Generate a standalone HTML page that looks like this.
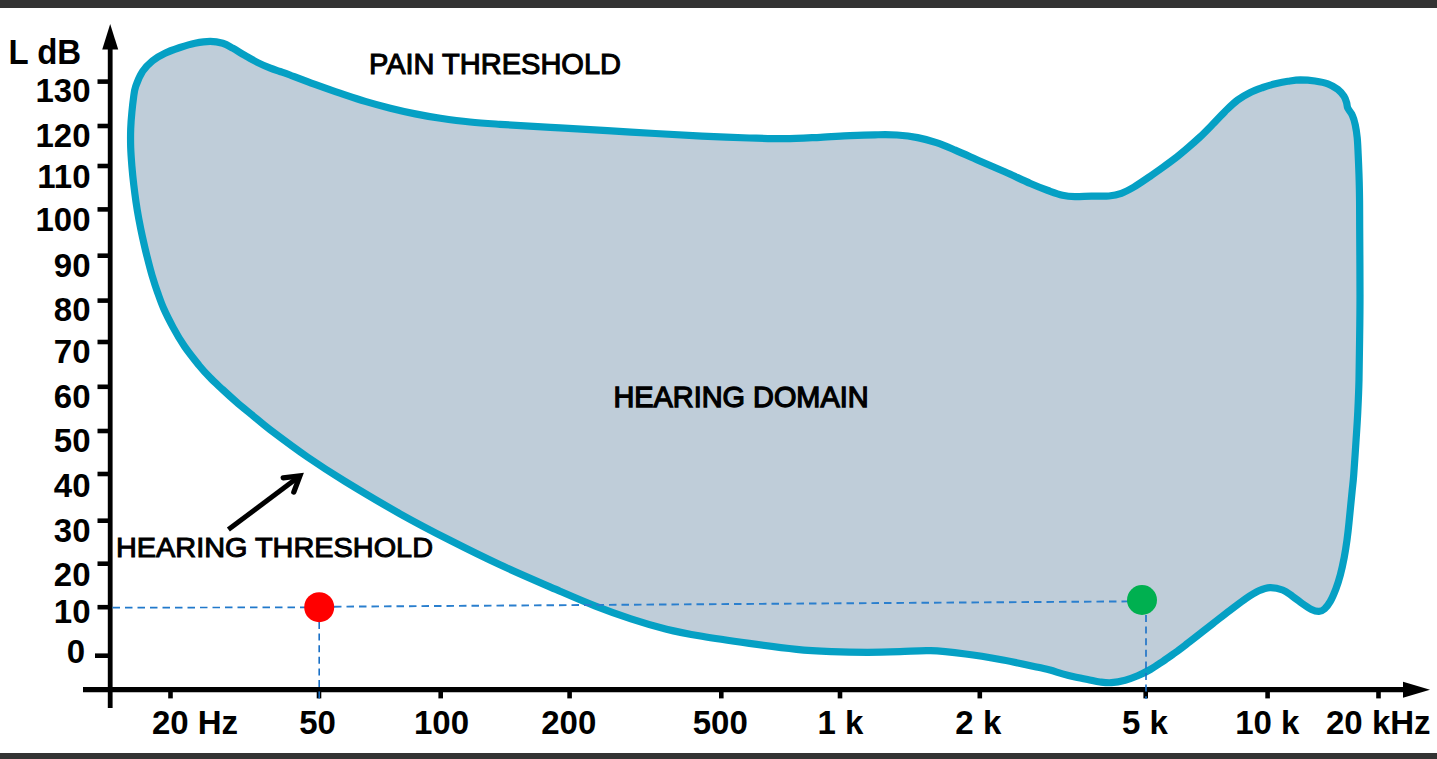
<!DOCTYPE html>
<html><head><meta charset="utf-8"><title>Hearing domain</title>
<style>
html,body{margin:0;padding:0;background:#fff;}
body{width:1437px;height:759px;overflow:hidden;font-family:"Liberation Sans",sans-serif;}
svg{display:block;}
text{font-family:"Liberation Sans",sans-serif;fill:#000;}
.b{font-weight:bold;font-size:33px;}
.r{font-size:28.5px;}
</style></head><body>
<svg width="1437" height="759" viewBox="0 0 1437 759">
<rect x="0" y="0" width="1437" height="759" fill="#ffffff"/>
<rect x="0" y="0" width="1437" height="8" fill="#333333"/>
<rect x="0" y="753" width="1437" height="6" fill="#333333"/>
<path d="M210.2,41.3C214.8,41.3 219.0,42.1 222.8,43.2C226.6,44.4 229.1,46.1 232.8,48.2C236.6,50.3 241.1,53.3 245.3,55.7C249.5,58.1 253.6,60.5 257.8,62.6C262.0,64.7 266.7,66.7 270.4,68.2C274.1,69.7 276.7,70.4 280.0,71.5C283.3,72.6 284.2,72.8 290.0,75.0C295.8,77.2 306.7,81.4 315.0,84.4C323.3,87.4 331.6,90.4 340.0,93.2C348.4,96.0 356.8,98.9 365.2,101.4C373.6,103.9 381.9,106.1 390.3,108.2C398.7,110.3 407.0,112.2 415.3,113.9C423.6,115.6 431.3,117.0 440.4,118.3C449.5,119.6 460.1,121.0 470.0,122.0C479.9,123.0 485.0,123.3 500.0,124.3C515.0,125.3 538.2,126.6 560.0,127.9C581.8,129.2 607.3,130.7 631.0,132.1C654.7,133.5 682.3,135.1 702.0,136.1C721.7,137.1 735.5,137.6 749.3,138.0C763.1,138.4 773.0,138.8 784.8,138.7C796.6,138.6 809.4,137.8 820.3,137.3C831.2,136.8 840.9,136.0 850.0,135.6C859.1,135.2 867.2,134.9 875.0,134.8C882.8,134.7 889.9,134.5 897.0,135.0C904.1,135.5 911.0,136.3 917.6,137.6C924.2,138.9 930.1,140.5 936.4,142.6C942.7,144.7 947.9,147.0 955.2,150.1C962.5,153.2 971.9,157.5 980.3,161.2C988.6,164.8 996.9,168.3 1005.3,172.0C1013.6,175.7 1023.3,180.4 1030.4,183.5C1037.5,186.6 1042.7,188.6 1048.0,190.5C1053.3,192.4 1058.0,194.2 1062.5,195.2C1067.0,196.2 1070.2,196.5 1075.0,196.7C1079.8,196.8 1085.8,196.2 1091.4,196.1C1097.1,196.0 1103.9,196.5 1108.9,196.0C1113.9,195.5 1117.2,194.8 1121.4,193.3C1125.6,191.8 1129.2,189.8 1134.0,187.0C1138.8,184.2 1145.5,179.5 1150.3,176.2C1155.1,172.9 1158.6,170.4 1162.8,167.4C1167.0,164.4 1171.2,161.4 1175.3,158.2C1179.4,155.0 1183.5,151.5 1187.6,148.0C1191.7,144.5 1195.8,140.9 1200.0,137.0C1204.2,133.1 1208.5,128.6 1212.7,124.3C1216.9,120.0 1221.0,115.3 1225.2,111.3C1229.4,107.2 1233.5,103.1 1237.7,100.0C1241.9,96.9 1246.1,94.6 1250.3,92.5C1254.5,90.4 1258.6,89.0 1262.8,87.5C1267.0,86.0 1271.1,84.8 1275.3,83.8C1279.5,82.8 1283.6,81.9 1287.8,81.3C1292.0,80.7 1295.9,80.0 1300.4,79.9C1304.9,79.9 1310.4,80.3 1315.0,81.0C1319.6,81.7 1324.0,82.4 1327.8,83.8C1331.6,85.2 1335.1,87.3 1337.8,89.4C1340.5,91.5 1342.5,94.1 1344.0,96.3C1345.5,98.5 1346.0,100.6 1346.6,102.6C1347.2,104.6 1346.9,106.1 1347.8,108.2C1348.7,110.3 1351.0,112.2 1352.2,115.0C1353.5,117.8 1354.5,121.2 1355.3,125.0C1356.1,128.8 1356.7,132.7 1357.2,137.7C1357.7,142.7 1357.8,146.3 1358.2,155.0C1358.6,163.7 1359.2,177.5 1359.4,190.0C1359.7,202.5 1359.6,212.5 1359.7,230.0C1359.8,247.5 1360.0,276.7 1360.0,295.0C1360.0,313.3 1359.8,325.8 1359.6,340.0C1359.4,354.2 1359.3,368.1 1359.0,380.0C1358.7,391.9 1358.3,400.9 1357.8,411.3C1357.3,421.8 1356.6,432.1 1355.9,442.7C1355.2,453.3 1354.3,466.9 1353.7,475.0C1353.1,483.1 1352.9,483.4 1352.1,491.3C1351.3,499.2 1349.8,514.6 1349.0,522.7C1348.2,530.8 1347.8,534.2 1347.0,540.0C1346.2,545.8 1345.3,551.7 1344.2,557.5C1343.1,563.3 1341.7,569.8 1340.3,575.0C1338.9,580.2 1337.6,584.5 1335.9,588.9C1334.2,593.3 1332.2,598.1 1330.3,601.4C1328.4,604.7 1326.5,607.2 1324.6,608.9C1322.7,610.6 1321.2,611.3 1319.0,611.4C1316.8,611.5 1314.2,610.8 1311.5,609.5C1308.8,608.2 1305.8,606.1 1302.7,603.9C1299.6,601.7 1296.1,598.7 1292.7,596.4C1289.3,594.1 1286.4,591.5 1282.6,590.0C1278.8,588.5 1274.0,587.5 1270.0,587.6C1266.0,587.7 1262.8,589.0 1258.8,590.8C1254.8,592.6 1251.1,595.0 1246.3,598.2C1241.5,601.5 1235.6,606.1 1230.0,610.3C1224.4,614.5 1217.8,619.8 1212.9,623.6C1208.0,627.5 1204.6,630.1 1200.4,633.4C1196.2,636.7 1192.0,640.0 1187.8,643.2C1183.6,646.4 1179.5,649.6 1175.3,652.6C1171.1,655.6 1167.0,658.6 1162.8,661.4C1158.6,664.2 1154.5,667.1 1150.3,669.5C1146.1,671.9 1141.9,674.0 1137.7,675.8C1133.5,677.6 1129.6,679.1 1125.2,680.2C1120.8,681.4 1115.6,682.4 1111.4,682.7C1107.2,683.0 1104.0,682.5 1100.0,682.0C1096.0,681.5 1091.8,680.3 1087.6,679.5C1083.4,678.7 1079.2,677.9 1075.0,677.0C1070.8,676.1 1066.7,675.1 1062.5,673.9C1058.3,672.7 1054.1,671.1 1050.0,670.0C1045.9,668.9 1045.8,669.0 1038.0,667.3C1030.2,665.6 1015.1,662.2 1003.0,660.0C990.9,657.8 977.7,655.5 965.6,654.0C953.5,652.5 941.4,651.1 930.5,650.7C919.6,650.3 910.5,651.4 900.0,651.7C889.5,652.0 878.9,652.3 867.6,652.3C856.3,652.3 843.8,652.1 832.0,651.6C820.2,651.1 810.4,650.7 796.6,649.3C782.8,647.9 765.1,645.6 749.3,643.4C733.5,641.2 715.8,638.7 702.0,636.3C688.2,633.9 678.3,632.1 666.5,629.2C654.7,626.3 642.8,622.8 631.0,618.9C619.2,615.0 607.3,610.7 595.5,606.1C583.7,601.5 575.9,598.1 560.0,591.2C544.1,584.3 518.3,573.3 500.0,564.8C481.7,556.3 466.7,548.8 450.0,540.3C433.3,531.8 417.5,523.6 400.0,513.8C382.5,504.0 360.4,490.8 345.0,481.4C329.6,471.9 320.1,465.7 307.6,457.1C295.1,448.5 279.4,436.7 270.0,429.6C260.6,422.5 257.1,419.1 251.5,414.5C245.9,409.9 241.2,406.2 236.4,402.0C231.6,397.8 227.0,393.6 222.6,389.5C218.2,385.4 213.9,381.7 210.0,377.6C206.1,373.6 203.2,370.4 198.9,365.2C194.7,360.0 188.8,352.7 184.5,346.4C180.2,340.1 176.6,333.9 173.2,327.6C169.8,321.3 166.4,314.7 163.8,308.8C161.2,302.9 159.6,298.1 157.6,292.5C155.6,286.9 153.8,281.2 152.0,275.2C150.2,269.2 148.6,262.7 147.0,256.4C145.4,250.1 144.0,243.9 142.6,237.6C141.2,231.3 139.9,224.7 138.8,218.8C137.7,212.9 136.8,207.6 136.0,202.0C135.2,196.4 134.5,191.1 133.8,185.2C133.1,179.3 132.4,172.7 131.9,166.4C131.4,160.1 130.9,153.9 130.7,147.6C130.5,141.3 130.5,134.7 130.7,128.8C130.9,122.9 131.4,117.1 131.9,112.0C132.4,106.9 132.9,102.3 133.5,98.0C134.1,93.7 134.2,90.8 135.7,86.4C137.2,82.0 139.8,75.7 142.6,71.4C145.4,67.1 148.9,63.7 152.6,60.7C156.3,57.7 160.4,55.4 165.0,53.2C169.6,51.0 175.0,49.2 180.0,47.5C185.0,45.8 190.0,44.2 195.0,43.2C200.0,42.2 205.6,41.3 210.2,41.3Z" fill="#bfcdd9" stroke="#05a0c4" stroke-width="7.2" stroke-linejoin="round"/>
<line x1="110.2" y1="46" x2="110.2" y2="708" stroke="#000" stroke-width="4.8"/>
<polygon points="110.2,24 118.2,49.5 102.2,49.5" fill="#000"/>
<line x1="83" y1="689.7" x2="1406" y2="689.7" stroke="#000" stroke-width="5.2"/>
<polygon points="1430,689.7 1403,681.7 1403,697.7" fill="#000"/>
<line x1="97.5" y1="81.6" x2="110" y2="81.6" stroke="#000" stroke-width="4.6"/>
<text class="b" x="90.5" y="101.7" text-anchor="end">130</text>
<line x1="97.5" y1="126" x2="110" y2="126" stroke="#000" stroke-width="4.6"/>
<text class="b" x="90.5" y="146.7" text-anchor="end">120</text>
<line x1="97.5" y1="166" x2="110" y2="166" stroke="#000" stroke-width="4.6"/>
<text class="b" x="90.5" y="188.0" text-anchor="end">110</text>
<line x1="97.5" y1="209.4" x2="110" y2="209.4" stroke="#000" stroke-width="4.6"/>
<text class="b" x="90.5" y="231.0" text-anchor="end">100</text>
<line x1="97.5" y1="255.7" x2="110" y2="255.7" stroke="#000" stroke-width="4.6"/>
<text class="b" x="90.5" y="276.7" text-anchor="end">90</text>
<line x1="97.5" y1="300.6" x2="110" y2="300.6" stroke="#000" stroke-width="4.6"/>
<text class="b" x="90.5" y="321.4" text-anchor="end">80</text>
<line x1="97.5" y1="342" x2="110" y2="342" stroke="#000" stroke-width="4.6"/>
<text class="b" x="90.5" y="362.7" text-anchor="end">70</text>
<line x1="97.5" y1="386.8" x2="110" y2="386.8" stroke="#000" stroke-width="4.6"/>
<text class="b" x="90.5" y="407.7" text-anchor="end">60</text>
<line x1="97.5" y1="431" x2="110" y2="431" stroke="#000" stroke-width="4.6"/>
<text class="b" x="90.5" y="451.7" text-anchor="end">50</text>
<line x1="97.5" y1="474" x2="110" y2="474" stroke="#000" stroke-width="4.6"/>
<text class="b" x="90.5" y="496.7" text-anchor="end">40</text>
<line x1="97.5" y1="520.7" x2="110" y2="520.7" stroke="#000" stroke-width="4.6"/>
<text class="b" x="90.5" y="541.5" text-anchor="end">30</text>
<line x1="97.5" y1="563.7" x2="110" y2="563.7" stroke="#000" stroke-width="4.6"/>
<text class="b" x="90.5" y="585.7" text-anchor="end">20</text>
<line x1="97.5" y1="607.2" x2="110" y2="607.2" stroke="#000" stroke-width="4.6"/>
<text class="b" x="90.5" y="622.7" text-anchor="end">10</text>
<line x1="95" y1="655.7" x2="110" y2="655.7" stroke="#000" stroke-width="4.6"/>
<text class="b" x="85.2" y="662.7" text-anchor="end">0</text>
<line x1="170.5" y1="689" x2="170.5" y2="698.4" stroke="#000" stroke-width="4.6"/>
<text class="b" x="195" y="733.6" text-anchor="middle" xml:space="preserve">20 Hz</text>
<line x1="319" y1="689" x2="319" y2="698.4" stroke="#000" stroke-width="4.6"/>
<text class="b" x="317.6" y="733.6" text-anchor="middle" xml:space="preserve">50</text>
<line x1="440.7" y1="689" x2="440.7" y2="698.4" stroke="#000" stroke-width="4.6"/>
<text class="b" x="441.5" y="733.6" text-anchor="middle" xml:space="preserve">100</text>
<line x1="569.6" y1="689" x2="569.6" y2="698.4" stroke="#000" stroke-width="4.6"/>
<text class="b" x="568.8" y="733.6" text-anchor="middle" xml:space="preserve">200</text>
<line x1="721.3" y1="689" x2="721.3" y2="698.4" stroke="#000" stroke-width="4.6"/>
<text class="b" x="720.3" y="733.6" text-anchor="middle" xml:space="preserve">500</text>
<line x1="840" y1="689" x2="840" y2="698.4" stroke="#000" stroke-width="4.6"/>
<text class="b" x="840.5" y="733.6" text-anchor="middle" xml:space="preserve">1 k</text>
<line x1="979.8" y1="689" x2="979.8" y2="698.4" stroke="#000" stroke-width="4.6"/>
<text class="b" x="978.3" y="733.6" text-anchor="middle" xml:space="preserve">2 k</text>
<line x1="1145.7" y1="689" x2="1145.7" y2="698.4" stroke="#000" stroke-width="4.6"/>
<text class="b" x="1145" y="733.6" text-anchor="middle" xml:space="preserve">5 k</text>
<line x1="1267.6" y1="689" x2="1267.6" y2="698.4" stroke="#000" stroke-width="4.6"/>
<text class="b" x="1267.3" y="733.6" text-anchor="middle" xml:space="preserve">10 k</text>
<line x1="1378.5" y1="689" x2="1378.5" y2="698.4" stroke="#000" stroke-width="4.6"/>
<text class="b" x="1378.3" y="733.6" text-anchor="middle" xml:space="preserve">20 kHz</text>
<line x1="112.5" y1="607.7" x2="305" y2="607.3" stroke="#2079cb" stroke-width="1.7" stroke-dasharray="7.5 5"/>
<line x1="334" y1="606.7" x2="1128" y2="601.4" stroke="#2a7fce" stroke-width="1.9" stroke-dasharray="7.5 5"/>
<line x1="319.2" y1="622" x2="319.2" y2="699" stroke="#1a70c6" stroke-width="1.6" stroke-dasharray="7 4.6"/>
<line x1="1146" y1="615" x2="1146" y2="699" stroke="#1a70c6" stroke-width="1.6" stroke-dasharray="7 4.6"/>
<text class="b" x="8.5" y="64" transform="translate(0,64) scale(1,1.06) translate(0,-64)" xml:space="preserve">L dB</text>
<text class="r" x="369" y="74.3" textLength="252" lengthAdjust="spacingAndGlyphs" style="font-size:30px" stroke="#000" stroke-width="1.1">PAIN THRESHOLD</text>
<text class="r" x="613.5" y="407" textLength="255" lengthAdjust="spacingAndGlyphs" style="font-size:29.5px" stroke="#000" stroke-width="1.3">HEARING DOMAIN</text>
<text class="r" x="116" y="557.4" textLength="317" lengthAdjust="spacingAndGlyphs" style="font-size:28px" stroke="#000" stroke-width="1.0">HEARING THRESHOLD</text>
<path d="M228.4,529.6 L299.8,476" stroke="#000" stroke-width="5" fill="none" stroke-linecap="butt"/>
<path d="M283.2,477.8 L299.9,475.9 L293.8,492.1" stroke="#000" stroke-width="5.3" fill="none" stroke-linejoin="miter" stroke-linecap="round"/>
<circle cx="319.2" cy="607.2" r="15" fill="#ff0000"/>
<circle cx="1142" cy="600" r="15" fill="#00b050"/>
</svg></body></html>
